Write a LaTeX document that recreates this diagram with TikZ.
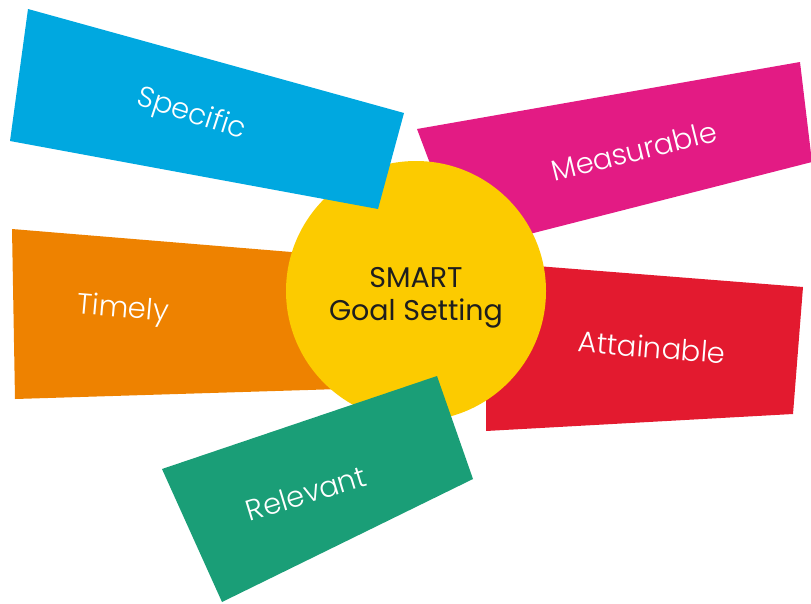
\documentclass[tikz,border=0pt]{standalone}
\usepackage{fontspec}
\setmainfont{Poppins}
\newfontfamily\lightfont{Poppins Light}
\definecolor{cblue}{HTML}{00A8E0}
\definecolor{cmagenta}{HTML}{E31B84}
\definecolor{corange}{HTML}{EE8200}
\definecolor{cred}{HTML}{E31A2F}
\definecolor{cgreen}{HTML}{1A9E77}
\definecolor{cyellow}{HTML}{FCCB00}
\definecolor{cdark}{HTML}{1E1E1E}
\begin{document}
\begin{tikzpicture}[x=1pt,y=-1pt,
  label/.style={text=white,font=\lightfont\fontsize{29}{34}\selectfont,inner sep=0pt},
  hub/.style={circle,fill=cyellow,minimum size=260pt,inner sep=0pt},
  hubtext/.style={text=cdark,align=center,inner sep=0pt,
    font=\fontsize{28.5}{33}\selectfont}]
\useasboundingbox (0,0) rectangle (811,603);
% bands that sit under the hub
\fill[corange] (12,229) -- (340,256) -- (340,389) -- (15,399) -- cycle;
\fill[cred] (486,262) -- (803,287) -- (793,414) -- (486,431) -- cycle;
\fill[cmagenta] (417,129) -- (800,62) -- (812,162) -- (463,251) -- cycle;
% hub
\node[hub] (hub) at (416,291) {};
\node[hubtext] (hubtext) at (416,298) {SMART\\Goal Setting};
% bands that sit over the hub
\fill[cblue] (28,9) -- (404,113) -- (378,209) -- (10,141) -- cycle;
\fill[cgreen] (162,469) -- (437,376) -- (473,479) -- (222,602) -- cycle;
% labels
\node[label,rotate=-18] (specific) at (191,115) {Specific};
\node[label,rotate=14] (measurable) at (634,151) {Measurable};
\node[label,rotate=-5] (timely) at (123,310) {Timely};
\node[label,rotate=-4.5] (attainable) at (652,347) {Attainable};
\node[label,rotate=17] (relevant) at (306,493) {Relevant};
\end{tikzpicture}
\end{document}
